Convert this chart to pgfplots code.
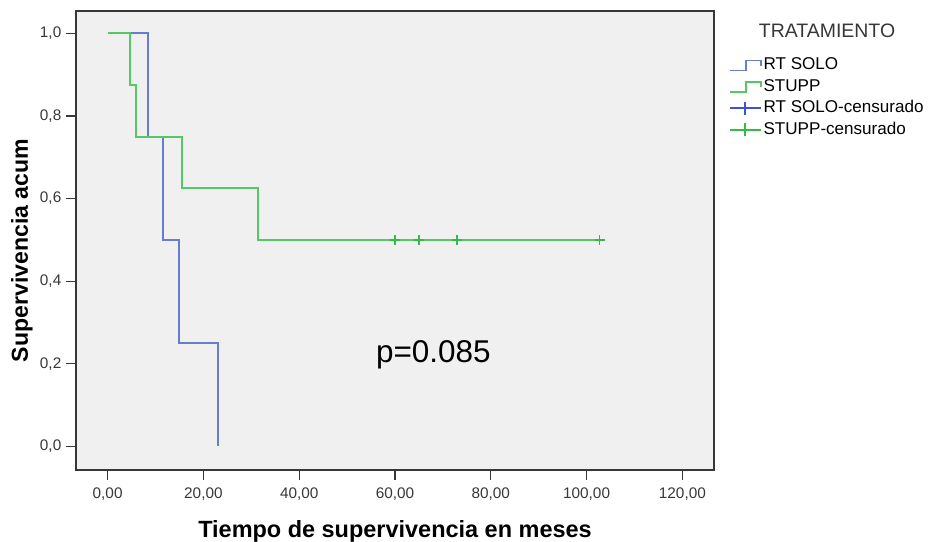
\documentclass[border=0pt]{standalone}
\usepackage{fontspec}
\setmainfont{Liberation Sans}
\usepackage{pgfplots}
\pgfplotsset{compat=1.18}
\definecolor{bgray}{RGB}{240,240,240}
\definecolor{axgray}{RGB}{55,55,55}
\definecolor{kmblue}{RGB}{105,125,205}
\definecolor{kmgreen}{RGB}{85,200,100}
\definecolor{cblue}{RGB}{60,85,205}
\definecolor{cgreen}{RGB}{55,185,70}
\begin{document}
\begin{tikzpicture}
\useasboundingbox (0,0) rectangle (696pt,406.5pt);
\begin{axis}[
  at={(57pt,54pt)}, anchor=south west,
  scale only axis, width=478.5pt, height=344.25pt,
  xmin=-6.6, xmax=126.6, ymin=-0.057, ymax=1.054,
  axis background/.style={fill=bgray},
  axis line style={axgray, line width=1.2pt},
  tick pos=left, tick align=outside,
  major tick length=7.5pt,
  every tick/.style={axgray, line width=1pt},
  xtick={0,20,40,60,80,100,120},
  xticklabels={{0,00},{20,00},{40,00},{60,00},{80,00},{100,00},{120,00}},
  ytick={0,0.2,0.4,0.6,0.8,1},
  yticklabels={{0,0},{0,2},{0,4},{0,6},{0,8},{1,0}},
  tick label style={font=\fontsize{11.5}{13}\selectfont, text=axgray},
  x tick label style={yshift=-2pt},
  xlabel={Tiempo de supervivencia en meses},
  ylabel={Supervivencia acum},
  x label style={at={(axis description cs:0.5,-0.1264)}, anchor=center, yshift=-2.5pt, font=\fontsize{17.6}{20}\selectfont\bfseries},
  y label style={at={(axis description cs:-0.0846,0.478)}, anchor=center, font=\fontsize{17.3}{20}\selectfont\bfseries},
  legend style={at={(1,1)}, anchor=north west, xshift=11.25pt, yshift=-35pt,
    draw=none, fill=none, inner sep=0pt, outer sep=0pt, row sep=4.6pt,
    column sep=1.5pt,
    nodes={inner sep=0pt, text height=9pt, text depth=2.5pt},
    font=\fontsize{12.8}{15}\selectfont, cells={anchor=west}},
]
\addplot[kmblue, line width=1.5pt, const plot mark left,
  legend image code/.code={\draw[kmblue, line width=1.2pt] (0pt,-3.75pt) -- (12pt,-3.75pt) -- (12pt,3.75pt) -- (23.25pt,3.75pt) -- (23.25pt,-0.5pt);}]
  coordinates {(0,1) (8.5,0.75) (11.5,0.5) (15.0,0.25) (23.0,0)};
\addlegendentry{RT SOLO}
\addplot[kmgreen, line width=1.5pt, const plot mark left,
  legend image code/.code={\draw[kmgreen, line width=1.2pt] (0pt,-3.75pt) -- (12pt,-3.75pt) -- (12pt,3.75pt) -- (23.25pt,3.75pt) -- (23.25pt,-0.5pt);}]
  coordinates {(0,1) (4.6,0.875) (6.0,0.75) (15.5,0.625) (31.5,0.5) (103.3,0.5)};
\addlegendentry{STUPP}
\addlegendimage{legend image code/.code={\draw[cblue, line width=1.2pt] (0pt,0pt) -- (23.25pt,0pt); \draw[cblue, line width=1.2pt] (11.6pt,-5pt) -- (11.6pt,5pt);}}
\addlegendentry{RT SOLO-censurado}
\addplot[only marks, mark=+, mark size=3.75pt, mark options={cgreen, line width=1.2pt},
  legend image code/.code={\draw[cgreen, line width=1.2pt] (0pt,0pt) -- (23.25pt,0pt); \draw[cgreen, line width=1.2pt] (11.6pt,-5pt) -- (11.6pt,5pt);}]
  coordinates {(60,0.5) (65,0.5) (73,0.5) (102.7,0.5)};
\addlegendentry{STUPP-censurado}
\node[font=\fontsize{23.6}{27}\selectfont] at (axis cs:68,0.221) {p=0.085};
\end{axis}
\node[font=\fontsize{14.6}{17}\selectfont, text=axgray] at (620.25pt,383.25pt) {TRATAMIENTO};
\end{tikzpicture}
\end{document}
